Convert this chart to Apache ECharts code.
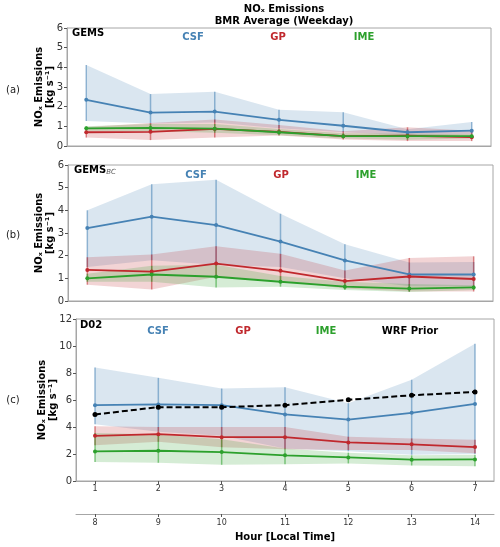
<!DOCTYPE html>
<html>
<head>
<meta charset="utf-8">
<script src="https://cdn.jsdelivr.net/npm/echarts@6/dist/echarts.min.js"></script>
<style>html,body{margin:0;padding:0;background:#fff}#c{width:500px;height:547px}</style>
</head>
<body>
<div id="c"></div>
<script>
// ---- data ----
var hours = [1, 2, 3, 4, 5, 6, 7];
var localHours = [8, 9, 10, 11, 12, 13, 14];
var yTicksAB = [0, 1, 2, 3, 4, 5, 6];
var yTicksC = [0, 2, 4, 6, 8, 10, 12];

// (a) GEMS
var csfA   = [2.35, 1.70, 1.75, 1.33, 1.03, 0.70, 0.78];
var csfAHi = [4.12, 2.64, 2.76, 1.84, 1.72, 0.85, 1.22];
var csfALo = [1.27, 1.15, 1.20, 0.90, 0.70, 0.55, 0.60];
var gpA    = [0.70, 0.72, 0.87, 0.72, 0.50, 0.52, 0.45];
var gpAHi  = [0.97, 1.17, 1.35, 1.07, 0.75, 0.95, 0.77];
var gpALo  = [0.43, 0.30, 0.43, 0.53, 0.33, 0.25, 0.25];
var imeA   = [0.90, 0.92, 0.88, 0.70, 0.50, 0.50, 0.50];
var imeAHi = [1.00, 1.12, 1.12, 0.87, 0.65, 0.62, 0.60];
var imeALo = [0.78, 0.75, 0.68, 0.55, 0.38, 0.32, 0.38];

// (b) GEMS_BC
var csfB   = [3.22, 3.72, 3.35, 2.62, 1.79, 1.17, 1.17];
var csfBHi = [4.00, 5.15, 5.35, 3.85, 2.50, 1.70, 1.72];
var csfBLo = [1.50, 1.80, 1.60, 1.50, 1.00, 0.65, 0.65];
var gpB    = [1.37, 1.30, 1.65, 1.33, 0.88, 1.08, 0.97];
var gpBHi  = [1.93, 2.05, 2.42, 2.08, 1.35, 1.90, 1.97];
var gpBLo  = [0.72, 0.51, 1.07, 0.90, 0.55, 0.42, 0.42];
var imeB   = [1.00, 1.17, 1.07, 0.85, 0.63, 0.55, 0.60];
var imeBHi = [1.20, 1.55, 1.60, 1.10, 0.85, 0.75, 0.70];
var imeBLo = [0.85, 0.85, 0.60, 0.63, 0.49, 0.40, 0.49];

// (c) D02
var csfC   = [5.62, 5.67, 5.62, 4.93, 4.55, 5.05, 5.71];
var csfCHi = [8.40, 7.64, 6.85, 6.95, 5.76, 7.50, 10.17];
var csfCLo = [4.20, 3.65, 3.35, 2.40, 2.20, 1.95, 2.00];
var gpC    = [3.35, 3.47, 3.25, 3.25, 2.86, 2.72, 2.51];
var gpCHi  = [4.05, 4.00, 4.00, 4.00, 3.28, 3.15, 3.05];
var gpCLo  = [2.65, 2.90, 2.50, 2.35, 2.30, 2.30, 2.05];
var imeC   = [2.19, 2.24, 2.14, 1.90, 1.75, 1.58, 1.60];
var imeCHi = [3.55, 3.45, 3.10, 2.40, 2.10, 1.90, 1.95];
var imeCLo = [1.40, 1.35, 1.20, 1.25, 1.30, 1.15, 1.10];
var wrfC   = [4.93, 5.47, 5.47, 5.62, 6.01, 6.35, 6.60];

// ---- styles ----
var BLUE = '#4682b4', RED = '#c0282d', GREEN = '#2ca02c';
var FONT = 'DejaVu Sans';
var GRAY = '#a6a6a6';

function pairs(y) { return hours.map(function (x, i) { return [x, y[i]]; }); }

function band(gi, lo, hi, color) {
  return {
    type: 'custom', xAxisIndex: gi, yAxisIndex: gi, silent: true, z: 1,
    data: hours.map(function (x, i) { return [x, lo[i], hi[i]]; }),
    renderItem: function (params, api) {
      if (params.dataIndex !== 0) return null;
      var pts = [];
      for (var i = 0; i < hours.length; i++) pts.push(api.coord([hours[i], hi[i]]));
      for (var j = hours.length - 1; j >= 0; j--) pts.push(api.coord([hours[j], lo[j]]));
      return { type: 'polygon', shape: { points: pts }, style: { fill: color, opacity: 0.2 } };
    }
  };
}
function errbars(gi, lo, hi, color) {
  return {
    type: 'custom', xAxisIndex: gi, yAxisIndex: gi, silent: true, z: 2,
    data: hours.map(function (x, i) { return [x, lo[i], hi[i]]; }),
    renderItem: function (params, api) {
      var p1 = api.coord([api.value(0), api.value(1)]);
      var p2 = api.coord([api.value(0), api.value(2)]);
      return { type: 'line', shape: { x1: p1[0], y1: p1[1], x2: p2[0], y2: p2[1] },
        style: { stroke: color, lineWidth: 1.5, opacity: 0.55 } };
    }
  };
}
function line(gi, y, color, dashed) {
  return {
    type: 'line', xAxisIndex: gi, yAxisIndex: gi, data: pairs(y), z: 3,
    symbol: 'circle', symbolSize: dashed ? 5 : 4, silent: true,
    itemStyle: { color: color },
    lineStyle: { color: color, width: dashed ? 2 : 1.8, type: dashed ? [6, 3] : 'solid' }
  };
}
function xAx(gi, showLabels) {
  return {
    type: 'value', gridIndex: gi, min: 0.7, max: 7.3,
    axisLine: { show: true, lineStyle: { color: GRAY, width: 1 } },
    axisTick: { show: showLabels, customValues: hours, length: 3, lineStyle: { color: '#555' } },
    axisLabel: { show: showLabels, customValues: hours, color: '#333', fontSize: 8, fontFamily: FONT, margin: 4 },
    splitLine: { show: false }
  };
}
function yAx(gi, max, ticks, gap) {
  return {
    type: 'value', gridIndex: gi, min: 0, max: max,
    name: 'NOₓ Emissions\n[kg s⁻¹]', nameLocation: 'middle', nameGap: gap, nameRotate: 90,
    nameMoveOverlap: false,
    nameTextStyle: { fontFamily: FONT, fontWeight: 'bold', fontSize: 10, color: '#000', lineHeight: 11 },
    axisLine: { show: true, lineStyle: { color: GRAY, width: 1 } },
    axisTick: { show: true, customValues: ticks, length: 3, lineStyle: { color: '#555' } },
    axisLabel: { customValues: ticks, color: '#333', fontSize: 10, fontFamily: FONT, margin: 4 },
    splitLine: { show: false }
  };
}
function txt(x, y, s, color, align, size) {
  return { type: 'text', x: x, y: y, silent: true,
    style: { text: s, fill: color, font: 'bold ' + (size || 10) + 'px "' + FONT + '"', textAlign: align || 'center', textVerticalAlign: 'middle' } };
}
function plabel(y, s) {
  return { type: 'text', x: 13, y: y, silent: true,
    style: { text: s, fill: '#222', font: '10px "' + FONT + '"', textAlign: 'center', textVerticalAlign: 'middle' } };
}

var chart = echarts.init(document.getElementById('c'), null, { renderer: 'canvas' });
var option = {
  animation: false,
  backgroundColor: '#fff',
  title: {
    text: 'NOₓ Emissions\nBMR Average (Weekday)', left: 279, top: -2, textAlign: 'center',
    textStyle: { fontFamily: FONT, fontWeight: 'bold', fontSize: 10, color: '#000', lineHeight: 12 }
  },
  grid: [
    { left: 67, top: 28, width: 424, height: 118, show: true, borderColor: GRAY, borderWidth: 1 },
    { left: 68, top: 165, width: 425, height: 136, show: true, borderColor: GRAY, borderWidth: 1 },
    { left: 76, top: 319, width: 418, height: 162, show: true, borderColor: GRAY, borderWidth: 1 }
  ],
  xAxis: [
    xAx(0, false), xAx(1, false), xAx(2, true),
    {
      type: 'value', gridIndex: 2, min: 7.7, max: 14.3, position: 'bottom', offset: 33,
      name: 'Hour [Local Time]', nameLocation: 'middle', nameGap: 18, nameMoveOverlap: false,
      nameTextStyle: { fontFamily: FONT, fontWeight: 'bold', fontSize: 10, color: '#000' },
      axisLine: { show: true, lineStyle: { color: GRAY, width: 1 } },
      axisTick: { show: true, customValues: localHours, length: 3, lineStyle: { color: '#555' } },
      axisLabel: { customValues: localHours, color: '#333', fontSize: 8, fontFamily: FONT, margin: 5 },
      splitLine: { show: false }
    }
  ],
  yAxis: [yAx(0, 6, yTicksAB, 11), yAx(1, 6, yTicksAB, 12), yAx(2, 12, yTicksC, 17)],
  graphic: [
    plabel(90, '(a)'), plabel(235, '(b)'), plabel(400, '(c)'),
    txt(72, 33, 'GEMS', '#000', 'left'),
    txt(193, 37, 'CSF', BLUE), txt(278, 37, 'GP', RED), txt(364, 37, 'IME', GREEN),
    { type: 'text', x: 74, y: 170, silent: true,
      style: { text: '{a|GEMS}{b|BC}', textVerticalAlign: 'middle',
        rich: { a: { fontFamily: FONT, fontWeight: 'bold', fontSize: 10, fill: '#000', color: '#000' },
                b: { fontFamily: FONT, fontStyle: 'italic', fontSize: 7, color: '#555', fill: '#555', padding: [5, 0, 0, 0] } } } },
    txt(196, 175, 'CSF', BLUE), txt(281, 175, 'GP', RED), txt(366, 175, 'IME', GREEN),
    txt(80, 325, 'D02', '#000', 'left'),
    txt(158, 331, 'CSF', BLUE), txt(243, 331, 'GP', RED), txt(326, 331, 'IME', GREEN), txt(410, 331, 'WRF Prior', '#000')
  ],
  series: [
    band(0, csfALo, csfAHi, BLUE), band(0, gpALo, gpAHi, RED), band(0, imeALo, imeAHi, GREEN),
    errbars(0, csfALo, csfAHi, BLUE), errbars(0, gpALo, gpAHi, RED), errbars(0, imeALo, imeAHi, GREEN),
    line(0, csfA, BLUE), line(0, gpA, RED), line(0, imeA, GREEN),

    band(1, csfBLo, csfBHi, BLUE), band(1, gpBLo, gpBHi, RED), band(1, imeBLo, imeBHi, GREEN),
    errbars(1, csfBLo, csfBHi, BLUE), errbars(1, gpBLo, gpBHi, RED), errbars(1, imeBLo, imeBHi, GREEN),
    line(1, csfB, BLUE), line(1, gpB, RED), line(1, imeB, GREEN),

    band(2, csfCLo, csfCHi, BLUE), band(2, gpCLo, gpCHi, RED), band(2, imeCLo, imeCHi, GREEN),
    errbars(2, csfCLo, csfCHi, BLUE), errbars(2, gpCLo, gpCHi, RED), errbars(2, imeCLo, imeCHi, GREEN),
    line(2, csfC, BLUE), line(2, gpC, RED), line(2, imeC, GREEN),
    line(2, wrfC, '#000', true)
  ]
};
chart.setOption(option);
</script>
</body>
</html>
